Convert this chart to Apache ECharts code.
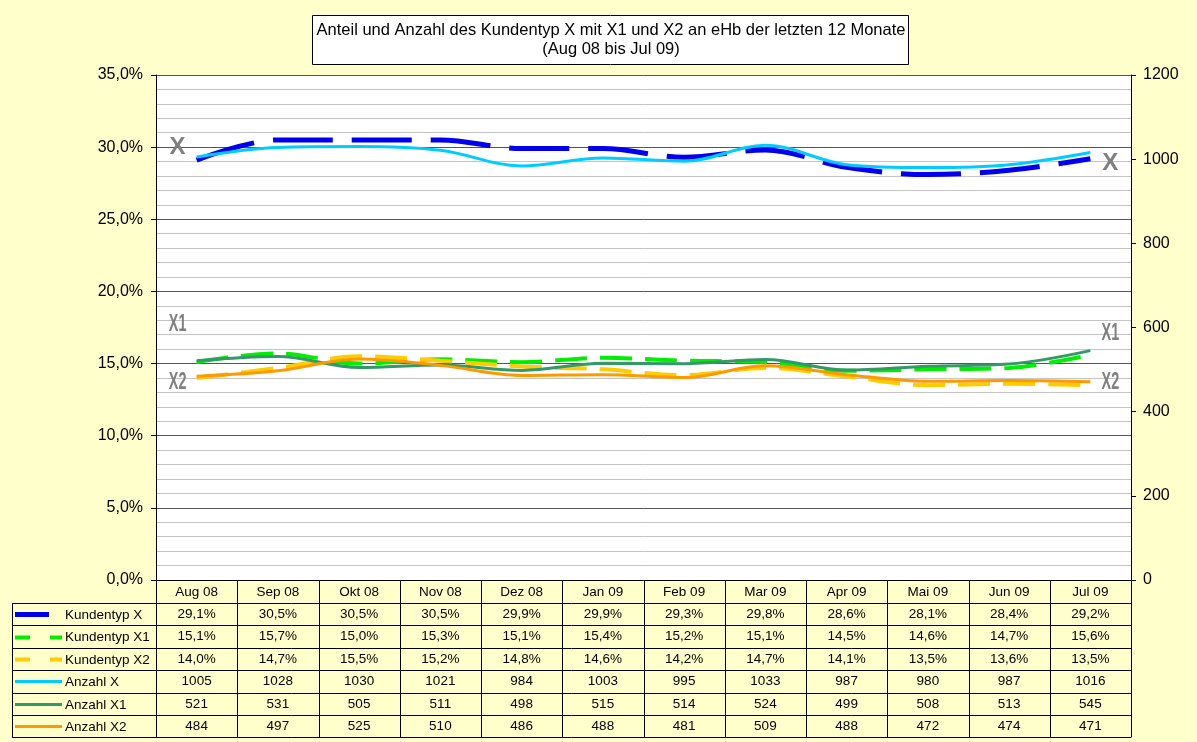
<!DOCTYPE html>
<html>
<head>
<meta charset="utf-8">
<title>Anteil und Anzahl des Kundentyp X</title>
<script src="https://cdn.jsdelivr.net/npm/echarts@6/dist/echarts.min.js"></script>
<style>
html, body { margin: 0; padding: 0; background: #FFFFCC; }
#chart { width: 1197px; height: 742px; }
</style>
</head>
<body>
<div id="chart"></div>
<script>
var months = ['Aug 08', 'Sep 08', 'Okt 08', 'Nov 08', 'Dez 08', 'Jan 09', 'Feb 09', 'Mar 09', 'Apr 09', 'Mai 09', 'Jun 09', 'Jul 09'];
var kundentypX  = [29.1, 30.5, 30.5, 30.5, 29.9, 29.9, 29.3, 29.8, 28.6, 28.1, 28.4, 29.2];
var kundentypX1 = [15.1, 15.7, 15.0, 15.3, 15.1, 15.4, 15.2, 15.1, 14.5, 14.6, 14.7, 15.6];
var kundentypX2 = [14.0, 14.7, 15.5, 15.2, 14.8, 14.6, 14.2, 14.7, 14.1, 13.5, 13.6, 13.5];
var anzahlX  = [1005, 1028, 1030, 1021, 984, 1003, 995, 1033, 987, 980, 987, 1016];
var anzahlX1 = [521, 531, 505, 511, 498, 515, 514, 524, 499, 508, 513, 545];
var anzahlX2 = [484, 497, 525, 510, 486, 488, 481, 509, 488, 472, 474, 471];

// Beschriftungen X / X1 / X2 links und rechts (Werte auf der Prozentachse)
var tagTexts = ['X', 'X1', 'X2'];
var tagLeftValues = [30.0, 17.7, 13.7];
var tagRightValues = [28.9, 17.1, 13.7];

var titleLines = ['Anteil und Anzahl des Kundentyp X mit X1 und X2 an eHb der letzten 12 Monate', '(Aug 08 bis Jul 09)'];

var FONT = '"Liberation Sans", Arial, sans-serif';

function pct(v) { return v.toFixed(1).replace('.', ',') + '%'; }

// Tabellenzeilen: Name, Farbe, Linienbreite, Strichmuster Legende, Daten, Format
var rows = [
    { name: 'Kundentyp X',  color: '#0000EE', width: 5, dash: null, keyEnd: 49, data: kundentypX,  axis: 0, type: [60, 19], fmt: pct },
    { name: 'Kundentyp X1', color: '#00EE00', width: 4, dash: [15, 20], keyEnd: 62, data: kundentypX1, axis: 0, type: [32, 13], fmt: pct },
    { name: 'Kundentyp X2', color: '#FFCC00', width: 4, dash: [15, 20], keyEnd: 62, data: kundentypX2, axis: 0, type: [32, 13], fmt: pct },
    { name: 'Anzahl X',  color: '#00CCFF', width: 3, dash: null, keyEnd: 62, data: anzahlX,  axis: 1, type: 'solid', fmt: String },
    { name: 'Anzahl X1', color: '#339966', width: 3, dash: null, keyEnd: 62, data: anzahlX1, axis: 1, type: 'solid', fmt: String },
    { name: 'Anzahl X2', color: '#FF9900', width: 3, dash: null, keyEnd: 62, data: anzahlX2, axis: 1, type: 'solid', fmt: String }
];

// Layout
var plotLeft = 156, plotRight = 1131, plotTop = 75, plotBottom = 580;
var tableLeft = 12, rowTop = 603, rowH = 22.4;
var colW = (plotRight - plotLeft) / months.length;

var option = {
    backgroundColor: '#FFFFCC',
    animation: false,
    textStyle: { fontFamily: FONT },
    grid: {
        left: plotLeft, right: 1197 - plotRight, top: plotTop, bottom: 742 - plotBottom,
        show: true, backgroundColor: '#FFFFFF', borderWidth: 0, containLabel: false
    },
    xAxis: {
        type: 'category',
        data: months,
        boundaryGap: true,
        axisLine: { lineStyle: { color: '#000', width: 1 } },
        axisTick: { show: false },
        axisLabel: { interval: 0, margin: 5, fontSize: 13.5, color: '#000', fontFamily: FONT },
        splitLine: { show: false }
    },
    yAxis: [{
        type: 'value',
        min: 0, max: 35, interval: 5,
        position: 'left',
        axisLine: { show: true, lineStyle: { color: '#000' } },
        axisTick: { show: true, length: 5, lineStyle: { color: '#000' } },
        axisLabel: { margin: 13, fontSize: 16, color: '#000', fontFamily: FONT, formatter: pct },
        splitLine: { show: true, lineStyle: { color: '#555', width: 1 } },
        minorTick: { show: false, splitNumber: 5 },
        minorSplitLine: { show: true, lineStyle: { color: '#C4C4C4', width: 1 } }
    }, {
        type: 'value',
        min: 0, max: 1200, interval: 200,
        position: 'right',
        axisLine: { show: true, lineStyle: { color: '#000' } },
        axisTick: { show: true, length: 5, lineStyle: { color: '#000' } },
        axisLabel: { margin: 12, fontSize: 16, color: '#000', fontFamily: FONT, formatter: function (v) { return String(v); } },
        splitLine: { show: false }
    }],
    series: rows.map(function (r) {
        return {
            name: r.name,
            type: 'line',
            yAxisIndex: r.axis,
            data: r.data,
            smooth: 0.35,
            symbol: 'none',
            lineStyle: { color: r.color, width: r.width, type: r.type, cap: 'butt' },
            itemStyle: { color: r.color }
        };
    })
};

var chart = echarts.init(document.getElementById('chart'));
chart.setOption(option);

var g = [];
function hline(x1, x2, y) {
    g.push({ type: 'line', silent: true, shape: { x1: x1, y1: y, x2: x2, y2: y }, style: { stroke: '#000', lineWidth: 1 } });
}
function vline(x, y1, y2) {
    g.push({ type: 'line', silent: true, shape: { x1: x, y1: y1, x2: x, y2: y2 }, style: { stroke: '#000', lineWidth: 1 } });
}
function text(t, x, y, align, size) {
    g.push({ type: 'text', silent: true, x: x, y: y, style: {
        text: t, fill: '#000', align: align, verticalAlign: 'middle', font: size + 'px ' + FONT } });
}

// Titel
g.push({ type: 'rect', silent: true, shape: { x: 312.5, y: 15.5, width: 596, height: 49 },
    style: { fill: '#FFFFFF', stroke: '#000', lineWidth: 1 } });
text(titleLines[0], 611, 30, 'center', 16.5);
text(titleLines[1], 611, 49, 'center', 16.5);

// Datentabelle
var tableBottom = rowTop + rows.length * rowH;
for (var r = 0; r <= rows.length; r++) {
    hline(tableLeft, plotRight, Math.round(rowTop + r * rowH) + 0.5);
}
vline(tableLeft + 0.5, rowTop, tableBottom);
for (var c = 0; c <= months.length; c++) {
    vline(Math.round(plotLeft + c * colW) + 0.5, plotBottom, tableBottom);
}
rows.forEach(function (row, i) {
    var yc = rowTop + (i + 0.5) * rowH;
    var ky = Math.round(yc) + 0.5;
    g.push({ type: 'line', silent: true, shape: { x1: 15, y1: ky, x2: row.keyEnd, y2: ky },
        style: { stroke: row.color, lineWidth: row.width, lineDash: row.dash, lineCap: 'butt' } });
    text(row.name, 65, yc + 1, 'left', 13.5);
    row.data.forEach(function (v, j) {
        text(row.fmt(v), plotLeft + (j + 0.5) * colW, yc, 'center', 13.5);
    });
});

// Beschriftungen X, X1, X2 an den Linienenden
function tag(t, idx, val, dx) {
    var p = chart.convertToPixel({ xAxisIndex: 0, yAxisIndex: 0 }, [idx, val]);
    g.push({ type: 'text', silent: true, x: p[0] + dx, y: p[1], scaleX: t === 'X' ? 1 : 0.6,
        style: { text: t, fill: '#808080', align: 'center', verticalAlign: 'middle',
                 font: 'bold 24px ' + FONT } });
}
tagTexts.forEach(function (t, i) {
    tag(t, 0, tagLeftValues[i], -19);
    tag(t, months.length - 1, tagRightValues[i], 20);
});

chart.setOption({ graphic: g });
</script>
</body>
</html>
